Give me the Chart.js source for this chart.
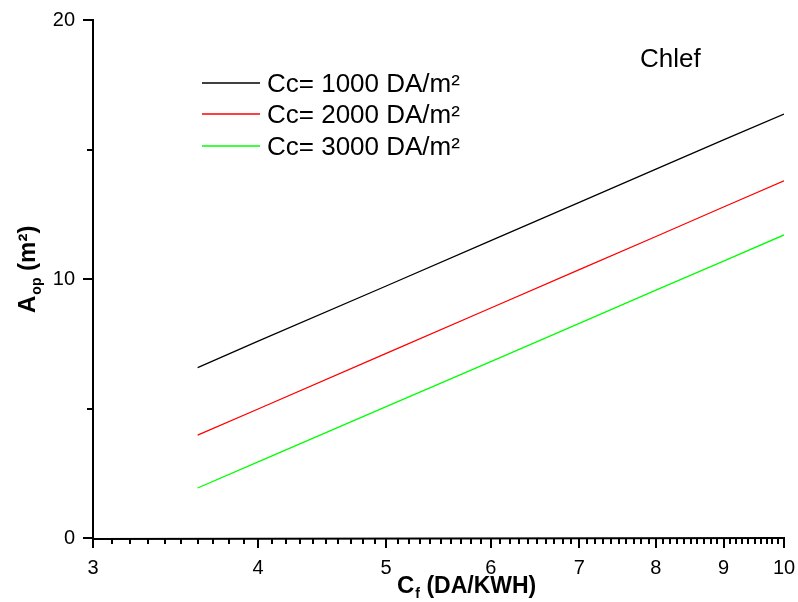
<!DOCTYPE html>
<html>
<head>
<meta charset="utf-8">
<script src="https://cdn.jsdelivr.net/npm/chart.js@4.4.1/dist/chart.umd.min.js"></script>
<style>
  html, body { margin: 0; padding: 0; background: #fff; }
  #wrap { width: 798px; height: 602px; }
</style>
</head>
<body>
<div id="wrap"><canvas id="chart" width="798" height="602"></canvas></div>
<script>
// C_f (DA/KWH) values where the curves were read
const cfValues = [3.6, 4, 5, 6, 7, 8, 9, 10];
// A_op (m²)
const aop1000 = [6.58, 7.6, 9.73, 11.48, 12.96, 14.24, 15.37, 16.37];
const aop2000 = [3.97, 4.98, 7.13, 8.88, 10.36, 11.64, 12.78, 13.79];
const aop3000 = [1.93, 2.94, 5.07, 6.81, 8.29, 9.57, 10.69, 11.7];
const seriesLabels = ["Cc= 1000 DA/m²", "Cc= 2000 DA/m²", "Cc= 3000 DA/m²"];
const seriesColors = ["#000000", "#ff0000", "#00ff00"];
const xLabelTicks = [3, 4, 5, 6, 7, 8, 9, 10];
const yTicks = [0, 5, 10, 15, 20];
const yLabelTicks = [0, 10, 20];

const FONT = "'Liberation Sans', Arial, sans-serif";

function toPoints(ys) {
  return cfValues.map((x, i) => ({ x: x, y: ys[i] }));
}

// minor ticks every 0.1 between 3 and 10
let xMinorTicks = [];
for (let i = 30; i <= 100; i++) xMinorTicks.push(i / 10);

const axesPlugin = {
  id: "axesPlugin",
  afterDraw(chart) {
    const ctx = chart.ctx;
    const xs = chart.scales.x;
    const ys = chart.scales.y;
    const area = chart.chartArea;
    ctx.save();
    ctx.strokeStyle = "#000";
    ctx.lineWidth = 2;
    ctx.lineCap = "butt";

    // axis lines
    ctx.beginPath();
    ctx.moveTo(area.left, ys.getPixelForValue(20) - 1);
    ctx.lineTo(area.left, area.bottom + 1);
    ctx.lineTo(xs.getPixelForValue(10) + 1, area.bottom);
    ctx.stroke();

    // x ticks (downward)
    ctx.beginPath();
    xMinorTicks.forEach((v) => {
      const px = Math.round(xs.getPixelForValue(v));
      const major = Math.abs(v - Math.round(v)) < 1e-6;
      ctx.moveTo(px, area.bottom);
      ctx.lineTo(px, area.bottom + (major ? 10 : 6));
    });
    ctx.stroke();

    // y ticks (leftward)
    ctx.beginPath();
    yTicks.forEach((v) => {
      const py = Math.round(ys.getPixelForValue(v));
      const major = yLabelTicks.includes(v);
      ctx.moveTo(area.left, py);
      ctx.lineTo(area.left - (major ? 10 : 6), py);
    });
    ctx.stroke();

    ctx.fillStyle = "#000";
    ctx.textAlign = "left";
    ctx.textBaseline = "alphabetic";

    // x title: C_f (DA/KWH)
    let tx = 397;
    const tby = 593;
    ctx.font = "bold 24px " + FONT;
    ctx.fillText("C", tx, tby);
    tx += ctx.measureText("C").width;
    ctx.font = "bold 14px " + FONT;
    ctx.fillText("f", tx + 1, tby + 5);
    tx += ctx.measureText("f").width + 1;
    ctx.font = "bold 23px " + FONT;
    ctx.fillText(" (DA/KWH)", tx, tby);

    // y title: A_op (m²)
    ctx.save();
    ctx.translate(35, 313);
    ctx.rotate(-Math.PI / 2);
    let ty = 0;
    ctx.font = "bold 24px " + FONT;
    ctx.fillText("A", ty, 0);
    ty += ctx.measureText("A").width;
    ctx.font = "bold 14px " + FONT;
    ctx.fillText("op", ty + 1, 6);
    ty += ctx.measureText("op").width + 1;
    ctx.font = "bold 24px " + FONT;
    ctx.fillText(" (m²)", ty, 0);
    ctx.restore();

    // legend
    const legendY = [83, 114, 146];
    ctx.font = "26px " + FONT;
    chart.data.datasets.forEach((ds, i) => {
      ctx.strokeStyle = ds.borderColor;
      ctx.lineWidth = 1.3;
      ctx.beginPath();
      ctx.moveTo(202, legendY[i]);
      ctx.lineTo(260, legendY[i]);
      ctx.stroke();
      ctx.fillText(ds.label, 267, legendY[i] + 9);
    });

    // station name
    ctx.fillText("Chlef", 640, 67);
    ctx.restore();
  },
};

const ctx = document.getElementById("chart").getContext("2d");
new Chart(ctx, {
  type: "line",
  data: {
    datasets: [
      { label: seriesLabels[0], data: toPoints(aop1000), borderColor: seriesColors[0] },
      { label: seriesLabels[1], data: toPoints(aop2000), borderColor: seriesColors[1] },
      { label: seriesLabels[2], data: toPoints(aop3000), borderColor: seriesColors[2] },
    ],
  },
  options: {
    responsive: false,
    animation: false,
    layout: { padding: { top: 20, right: 14, left: 0, bottom: 0 } },
    elements: {
      line: { borderWidth: 1.3, tension: 0, fill: false },
      point: { radius: 0 },
    },
    plugins: {
      legend: { display: false },
      tooltip: { enabled: false },
    },
    scales: {
      x: {
        type: "logarithmic",
        min: 3,
        max: 10,
        grid: { display: false, drawTicks: false },
        border: { display: false },
        afterBuildTicks: (scale) => {
          scale.ticks = xMinorTicks.map((v) => ({ value: v }));
        },
        afterFit: (scale) => {
          scale.height = 64;
          scale.paddingLeft = 0;
          scale.paddingRight = 0;
        },
        ticks: {
          autoSkip: false,
          maxRotation: 0,
          minRotation: 0,
          padding: 18,
          color: "#000",
          font: { family: FONT, size: 20 },
          callback: (v) => {
            const r = Math.round(v);
            return Math.abs(v - r) < 1e-6 && xLabelTicks.includes(r) ? String(r) : "";
          },
        },
      },
      y: {
        min: 0,
        max: 20,
        grid: { display: false, drawTicks: false },
        border: { display: false },
        afterBuildTicks: (scale) => {
          scale.ticks = yTicks.map((v) => ({ value: v }));
        },
        afterFit: (scale) => {
          scale.width = 93;
          scale.paddingTop = 0;
          scale.paddingBottom = 0;
        },
        ticks: {
          padding: 18,
          color: "#000",
          font: { family: FONT, size: 20 },
          callback: (v) => (yLabelTicks.includes(v) ? String(v) : ""),
        },
      },
    },
  },
  plugins: [axesPlugin],
});
</script>
</body>
</html>
